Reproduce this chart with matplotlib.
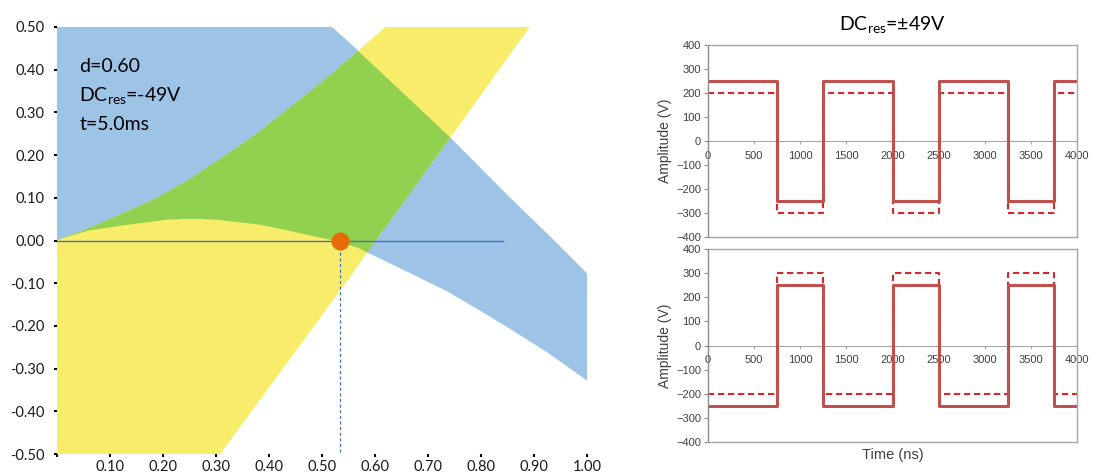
import matplotlib
matplotlib.use("Agg")
import matplotlib.pyplot as plt

# ------------------------------------------------------------------
# Left panel: regions (boundaries)
# ------------------------------------------------------------------
# blue region: upper-right edge and lower "hump" edge
blue_top_x = [0.0, 0.0, 0.519, 0.568, 0.65, 0.742, 0.86, 0.94, 1.0]
blue_top_y = [0.0, 0.50, 0.50, 0.445, 0.349, 0.241, 0.094, -0.002, -0.077]
hump_x = [0.0, 0.015, 0.058, 0.123, 0.166, 0.209, 0.254, 0.298, 0.326, 0.349,
          0.383, 0.426, 0.477, 0.515, 0.566, 0.585, 0.609, 0.672, 0.736,
          0.798, 0.86, 0.925, 1.0]
hump_y = [0.0, 0.007, 0.023, 0.035, 0.042, 0.049, 0.051, 0.049, 0.045, 0.042,
          0.037, 0.026, 0.012, 0.002, -0.016, -0.028, -0.042, -0.080, -0.119,
          -0.164, -0.211, -0.262, -0.328]

# yellow region: upper-left curve and straight right edge
yel_top_x = [0.0, 0.009, 0.058, 0.123, 0.185, 0.247, 0.311, 0.374, 0.458,
             0.521, 0.568, 0.619]
yel_top_y = [0.0, 0.005, 0.028, 0.063, 0.098, 0.141, 0.194, 0.248, 0.330,
             0.393, 0.444, 0.50]
yel_right_x = [0.892, 0.742, 0.585, 0.558, 0.308]
yel_right_y = [0.50, 0.241, -0.028, -0.077, -0.50]

# operating point
op_x, op_y = 0.534, 0.0
hline_x = [0.0, 0.842]

# ------------------------------------------------------------------
# Right panels: square waves
# ------------------------------------------------------------------
t_ns = [0, 750, 1250, 2000, 2500, 3250, 3750, 4000]
top_solid = [250, -250, 250, -250, 250, -250, 250, 250]
top_dash = [200, -300, 200, -300, 200, -300, 200, 200]
bot_solid = [-250, 250, -250, 250, -250, 250, -250, -250]
bot_dash = [-200, 300, -200, 300, -200, 300, -200, -200]

BLUE = "#9DC3E6"
YELLOW = "#F8EC6B"
GREEN = "#92D050"

fig = plt.figure(figsize=(10.93, 4.76), dpi=100)

# ---------------- left panel ----------------
ax = fig.add_axes([57 / 1093, 22 / 476, 530 / 1093, 427 / 476])
ax.set_xlim(0, 1)
ax.set_ylim(-0.5, 0.5)

bx = blue_top_x + hump_x[::-1]
by = blue_top_y + hump_y[::-1]
ax.fill(bx, by, color=BLUE, lw=0)

yx = yel_top_x + yel_right_x + [0.0]
yy = yel_top_y + yel_right_y + [-0.5]
ax.fill(yx, yy, color=YELLOW, lw=0)

# green = overlap of blue and yellow
gx = yel_top_x[:11] + blue_top_x[4:6] + yel_right_x[2:3] + hump_x[:16][::-1]
gy = yel_top_y[:11] + blue_top_y[4:6] + yel_right_y[2:3] + hump_y[:16][::-1]
ax.fill(gx, gy, color=GREEN, lw=0)

ax.plot(hline_x, [0, 0], color="#4472C4", lw=1)
ax.plot([op_x, op_x], [op_y, -0.5], color="#4472C4", lw=0.9, ls=(0, (2.5, 2)))
ax.plot(op_x, op_y, "o", color="#E36C09", ms=12, zorder=5)

for s in ax.spines.values():
    s.set_visible(False)
yt = [-0.5, -0.4, -0.3, -0.2, -0.1, 0.0, 0.1, 0.2, 0.3, 0.4, 0.5]
ax.set_yticks(yt)
ax.set_yticklabels(["%.2f" % v for v in yt])
xt = [0.0, 0.1, 0.2, 0.3, 0.4, 0.5, 0.6, 0.7, 0.8, 0.9, 1.0]
ax.set_xticks(xt)
ax.set_xticklabels([""] + ["%.2f" % v for v in xt[1:]])
ax.tick_params(direction="out", length=2, width=1.5, color="black",
               labelsize=10.5, labelcolor="#1a1a1a")
ax.tick_params(axis="y", pad=7)
ax.tick_params(axis="x", pad=2)
for lab in ax.get_xticklabels() + ax.get_yticklabels():
    lab.set_family("Lato")

txt = dict(transform=ax.transAxes, fontsize=14, family="Lato",
           color="black", va="baseline")
ax.text(0.042, 0.895, "d=0.60", **txt)
ax.text(0.042, 0.824, r"DC$_\mathregular{res}$=-49V", **txt)
ax.text(0.042, 0.759, "t=5.0ms", **txt)

# ---------------- right panels ----------------
def wave_panel(rect, solid, dash, xlabel=None):
    a = fig.add_axes(rect)
    a.plot(t_ns, dash, drawstyle="steps-post", color="#D9262B", lw=1.5,
           ls=(0, (3, 1.8)))
    a.plot(t_ns, solid, drawstyle="steps-post", color="#C0504D", lw=2.2)
    a.set_xlim(0, 4000)
    a.set_ylim(-400, 400)
    a.set_yticks(range(-400, 401, 100))
    a.set_xticks([])
    for s in a.spines.values():
        s.set_color("#A6A6A6")
        s.set_linewidth(1)
    a.spines["left"].set_color("#8C8C8C")
    a.tick_params(axis="y", direction="out", length=3, color="#8C8C8C",
                  labelsize=8, labelcolor="#404040", pad=2)
    for lab in a.get_yticklabels():
        lab.set_family("Liberation Sans")
    a.set_ylabel("Amplitude (V)", fontsize=10, color="#404040",
                 family="Liberation Sans", labelpad=3)
    # x axis drawn through zero (just below 0.5 so labels sit underneath)
    sec = a.secondary_xaxis(0.4999)
    sec.set_xticks(range(0, 4001, 500))
    for s in sec.spines.values():
        s.set_color("#A6A6A6")
    sec.tick_params(direction="out", length=2, color="#A6A6A6",
                    labelsize=8, labelcolor="#404040", pad=5)
    for lab in sec.get_xticklabels():
        lab.set_family("Liberation Sans")
    if xlabel:
        a.set_xlabel(xlabel, fontsize=10.5, color="#404040",
                     family="Liberation Sans", labelpad=4)
    return a

top = wave_panel([708 / 1093, 239 / 476, 369 / 1093, 192 / 476], top_solid, top_dash)
top.set_title(r"DC$_\mathregular{res}$=±49V", fontsize=14, family="Lato", pad=10)
wave_panel([708 / 1093, 34 / 476, 369 / 1093, 193 / 476], bot_solid, bot_dash,
           xlabel="Time (ns)")

fig.savefig("out.png", dpi=100)
